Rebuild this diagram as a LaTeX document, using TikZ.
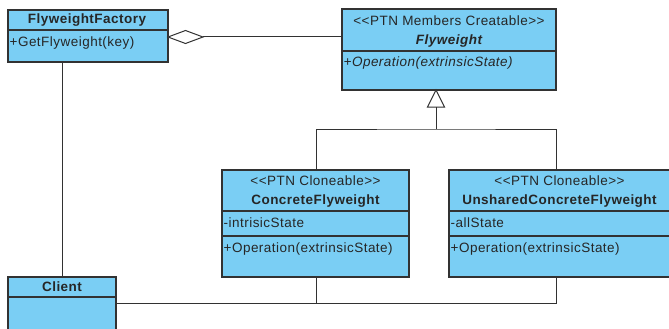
\documentclass[tikz,border=0pt]{standalone}
\usepackage{fontspec}
\setmainfont[LetterSpace=3.5]{Liberation Sans}
\usetikzlibrary{calc}
\definecolor{umlfill}{RGB}{122,206,244}
\definecolor{umledge}{RGB}{50,50,50}
\tikzset{
  x=1pt, y=-1pt,
  umlbox/.style={draw=umledge, fill=umlfill, line width=1.1pt, anchor=north west, inner sep=0pt, outer sep=0pt},
  divline/.style={draw=umledge, line width=1.1pt},
  conn/.style={draw=umledge, line width=1pt},
  txt/.style={inner sep=0pt, font=\fontsize{13.5}{15}\selectfont, text=black!85},
  ltxt/.style={txt, anchor=west},
  ctxt/.style={txt, anchor=center},
}
\begin{document}
\begin{tikzpicture}
\useasboundingbox (0,0) rectangle (669,329);
\clip (0,0) rectangle (669,329);
% boxes
\node[umlbox, minimum width=160pt, minimum height=52pt] (fac) at (8,10) {};
\node[umlbox, minimum width=214pt, minimum height=81pt] (fly) at (342,9) {};
\node[umlbox, minimum width=187pt, minimum height=107pt] (cf) at (222,170) {};
\node[umlbox, minimum width=221pt, minimum height=107pt] (ucf) at (449,170) {};
\node[umlbox, minimum width=108pt, minimum height=70pt] (cli) at (8,277) {};
% dividers
\draw[divline] (8,30) -- (168,30);
\draw[divline] (342,51) -- (556,51);
\draw[divline] (222,211) -- (409,211);
\draw[divline] (222,236) -- (409,236);
\draw[divline] (449,211) -- (670,211);
\draw[divline] (449,236) -- (670,236);
\draw[divline] (8,297) -- (116,297);
% texts
\node[ctxt, font=\fontsize{13.5}{15}\selectfont\bfseries] (facname) at (87,20) {FlyweightFactory};
\node[ltxt] (facop) at (9.5,43) {+GetFlyweight(key)};
\node[ctxt] (flyst) at (449,21) {<{}<PTN Members Creatable>{}>};
\node[ctxt, font=\fontsize{13.5}{15}\selectfont\bfseries\itshape] (flyname) at (449,41) {Flyweight};
\node[ltxt, font=\fontsize{13.5}{15}\selectfont\itshape] (flyop) at (343.5,63) {+Operation(extrinsicState)};
\node[ctxt] (cfst) at (315.5,181) {<{}<PTN Cloneable>{}>};
\node[ctxt, font=\fontsize{13.5}{15}\selectfont\bfseries] (cfname) at (315.5,201) {ConcreteFlyweight};
\node[ltxt] (cfattr) at (223.5,223) {-intrisicState};
\node[ltxt] (cfop) at (223.5,249) {+Operation(extrinsicState)};
\node[ctxt] (ucfst) at (559.5,181) {<{}<PTN Cloneable>{}>};
\node[ctxt, font=\fontsize{13.5}{15}\selectfont\bfseries] (ucfname) at (559.5,201) {UnsharedConcreteFlyweight};
\node[ltxt] (ucfattr) at (450.5,223) {-allState};
\node[ltxt] (ucfop) at (450.5,249) {+Operation(extrinsicState)};
\node[ctxt, font=\fontsize{13.5}{15}\selectfont\bfseries] (cliname) at (62,287) {Client};
% connector coordinates
\coordinate (facR) at (168,37);
\coordinate (dmdEnd) at (203,37);
\coordinate (flyL) at (342,37);
\coordinate (flyB) at (436,90);
\coordinate (triB) at (436,107);
\coordinate (junc) at (436,129);
\coordinate (cfT) at (316,170);
\coordinate (ucfT) at (556,170);
\coordinate (cfB) at (316,277);
\coordinate (ucfB) at (556,277);
\coordinate (facB) at (62,62);
\coordinate (cliT) at (62,277);
\coordinate (cliR) at (116,303);
% aggregation
\draw[conn] (dmdEnd) -- (flyL);
\draw[conn, fill=white] (facR) -- (185.5,30.5) -- (dmdEnd) -- (185.5,43.5) -- cycle;
% generalization
\draw[conn, fill=white] (flyB) -- (427.5,107) -- (444.5,107) -- cycle;
\draw[conn] (triB) -- (junc);
\draw[conn] (cfT) |- (junc) -| (ucfT);
% factory - client
\draw[conn] (facB) -- (cliT);
% client - concrete
\draw[conn] (cliR) -| (ucfB);
\draw[conn] (cfB) -- (cfB |- cliR);
\end{tikzpicture}
\end{document}
